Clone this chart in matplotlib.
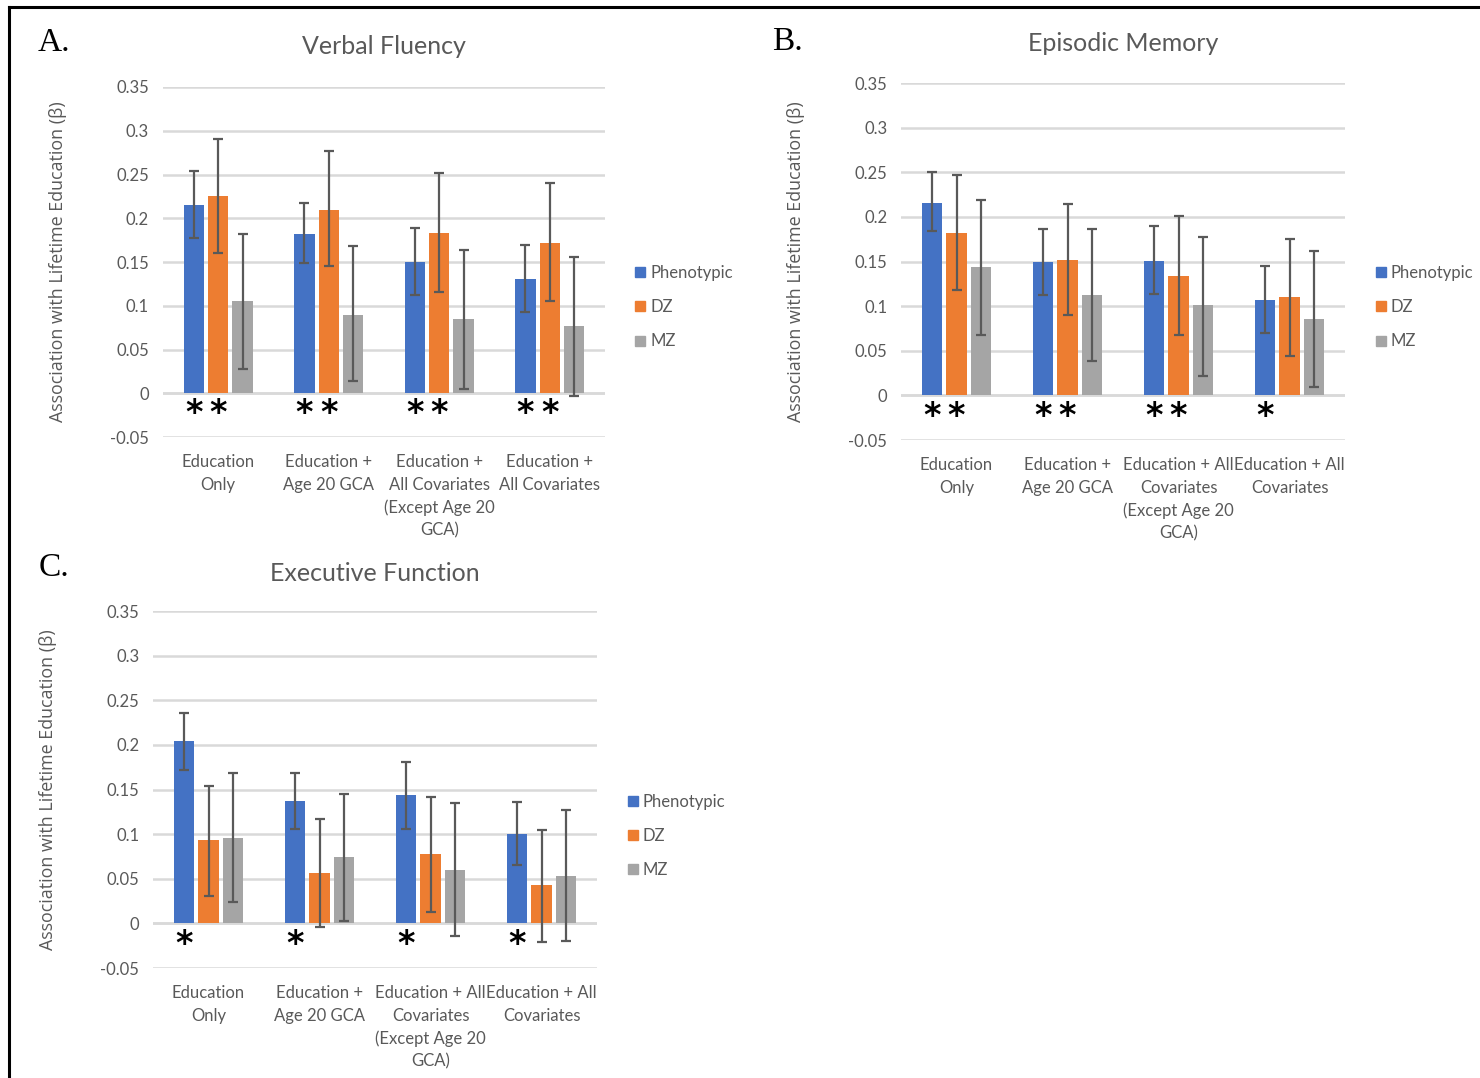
import numpy as np
import matplotlib
matplotlib.use("Agg")
import matplotlib.pyplot as plt
from matplotlib.lines import Line2D

# categories (panel A wraps differently from B and C)
cats_a = ["Education\nOnly", "Education +\nAge 20 GCA",
          "Education +\nAll Covariates\n(Except Age 20\nGCA)", "Education +\nAll Covariates"]
cats_bc = ["Education\nOnly", "Education +\nAge 20 GCA",
           "Education + All\nCovariates\n(Except Age 20\nGCA)", "Education + All\nCovariates"]
series = ["Phenotypic", "DZ", "MZ"]

# A. Verbal Fluency
vf_phen = [0.215, 0.182, 0.150, 0.131]
vf_phen_lo = [0.177, 0.149, 0.112, 0.093]
vf_phen_hi = [0.254, 0.217, 0.189, 0.170]
vf_dz = [0.226, 0.210, 0.183, 0.172]
vf_dz_lo = [0.160, 0.145, 0.116, 0.105]
vf_dz_hi = [0.291, 0.277, 0.252, 0.240]
vf_mz = [0.106, 0.090, 0.085, 0.077]
vf_mz_lo = [0.028, 0.014, 0.005, -0.003]
vf_mz_hi = [0.182, 0.168, 0.164, 0.156]
vf_sig_phen = [1, 1, 1, 1]
vf_sig_dz = [1, 1, 1, 1]

# B. Episodic Memory
em_phen = [0.216, 0.150, 0.151, 0.107]
em_phen_lo = [0.184, 0.113, 0.114, 0.070]
em_phen_hi = [0.250, 0.186, 0.190, 0.145]
em_dz = [0.182, 0.152, 0.134, 0.110]
em_dz_lo = [0.118, 0.090, 0.068, 0.044]
em_dz_hi = [0.247, 0.215, 0.201, 0.175]
em_mz = [0.144, 0.113, 0.101, 0.086]
em_mz_lo = [0.068, 0.039, 0.022, 0.009]
em_mz_hi = [0.219, 0.186, 0.178, 0.162]
em_sig_phen = [1, 1, 1, 1]
em_sig_dz = [1, 1, 1, 0]

# C. Executive Function
ef_phen = [0.204, 0.137, 0.144, 0.100]
ef_phen_lo = [0.172, 0.106, 0.106, 0.065]
ef_phen_hi = [0.236, 0.169, 0.181, 0.136]
ef_dz = [0.093, 0.056, 0.078, 0.043]
ef_dz_lo = [0.031, -0.004, 0.013, -0.021]
ef_dz_hi = [0.154, 0.117, 0.142, 0.105]
ef_mz = [0.096, 0.074, 0.060, 0.053]
ef_mz_lo = [0.024, 0.003, -0.014, -0.020]
ef_mz_hi = [0.169, 0.145, 0.135, 0.127]
ef_sig_phen = [1, 1, 1, 1]
ef_sig_dz = [0, 0, 0, 0]

yticks = [-0.05, 0, 0.05, 0.1, 0.15, 0.2, 0.25, 0.3, 0.35]
ytick_labels = ["-0.05", "0", "0.05", "0.1", "0.15", "0.2", "0.25", "0.3", "0.35"]

colors = ["#4472C4", "#ED7D31", "#A5A5A5"]
TXT = "#595959"
GRID = "#D9D9D9"

plt.rcParams["font.family"] = ["Lato", "DejaVu Sans"]


def draw_panel(ax, title, title_y, cats, vals, los, his, sig_phen, sig_dz, legend_y):
    x = np.arange(len(cats))
    width = 0.185
    offsets = [-0.22, 0, 0.22]
    for k in range(3):
        v = np.array(vals[k])
        err = [v - np.array(los[k]), np.array(his[k]) - v]
        ax.bar(x + offsets[k], v, width, color=colors[k], zorder=2,
               yerr=err, error_kw=dict(ecolor="#595959", elinewidth=1.6,
                                       capsize=3.8, capthick=1.6, zorder=3))
    # significance stars under the bars
    for i in range(len(cats)):
        for k, sig in enumerate([sig_phen, sig_dz]):
            if sig[i]:
                ax.text(x[i] + offsets[k], -0.0235, "*", ha="center", va="center",
                        fontsize=24, fontweight="bold", color="black",
                        family="DejaVu Sans")

    ax.set_xlim(-0.5, len(cats) - 0.5)
    ax.set_ylim(-0.05, 0.35)
    ax.set_yticks(yticks)
    ax.set_yticklabels(ytick_labels)
    ax.yaxis.grid(True, color=GRID, linewidth=1.8, zorder=0)
    ax.set_axisbelow(True)
    for s in ax.spines.values():
        s.set_visible(False)
    ax.axhline(0, color=GRID, linewidth=1.8, zorder=1)
    ax.tick_params(axis="both", length=0, labelsize=12, colors=TXT)
    ax.tick_params(axis="y", pad=10)
    ax.tick_params(axis="x", pad=12.5)
    ax.set_xticks(x)
    ax.set_xticklabels(cats, linespacing=1.48)

    ax.set_ylabel("Association with Lifetime Education (\u03b2)", fontsize=12.9,
                  color=TXT, family=["Open Sans", "DejaVu Sans"])
    ax.yaxis.set_label_coords(-0.216, 0.5)
    ax.text(0.5, title_y, title, transform=ax.transAxes, ha="center", va="center",
            fontsize=18, color=TXT)

    handles = [Line2D([], [], marker="s", linestyle="none", markersize=7,
                      color=c) for c in colors]
    ax.legend(handles, series, loc="center left", bbox_to_anchor=(1.035, legend_y),
              frameon=False, fontsize=12, labelcolor=TXT, handlelength=0.6,
              handletextpad=0.3, labelspacing=1.1)


fig = plt.figure(figsize=(14.8, 10.78), dpi=100)

ax_a = fig.add_axes([0.1101, 0.5946, 0.2987, 0.3247])
draw_panel(ax_a, "Verbal Fluency", 1.117, cats_a,
           [vf_phen, vf_dz, vf_mz], [vf_phen_lo, vf_dz_lo, vf_mz_lo],
           [vf_phen_hi, vf_dz_hi, vf_mz_hi], vf_sig_phen, vf_sig_dz, 0.371)

ax_b = fig.add_axes([0.6088, 0.5918, 0.3, 0.3312])
draw_panel(ax_b, "Episodic Memory", 1.112, cats_bc,
           [em_phen, em_dz, em_mz], [em_phen_lo, em_dz_lo, em_mz_lo],
           [em_phen_hi, em_dz_hi, em_mz_hi], em_sig_phen, em_sig_dz, 0.3725)

ax_c = fig.add_axes([0.1034, 0.102, 0.3, 0.3312])
draw_panel(ax_c, "Executive Function", 1.104, cats_bc,
           [ef_phen, ef_dz, ef_mz], [ef_phen_lo, ef_dz_lo, ef_mz_lo],
           [ef_phen_hi, ef_dz_hi, ef_mz_hi], ef_sig_phen, ef_sig_dz, 0.37)

# panel letters
for letter, lx, ly in [("A.", 0.0365, 0.960), ("B.", 0.532, 0.961), ("C.", 0.0365, 0.473)]:
    fig.text(lx, ly, letter, ha="center", va="center", fontsize=24, color="black",
             family="Liberation Serif")

# black frame along the top and left edges
fig.add_artist(Line2D([0.0061, 1.0], [0.9935, 0.9935], color="black", linewidth=2.2,
                      transform=fig.transFigure))
fig.add_artist(Line2D([0.0061, 0.0061], [0.0, 0.9935], color="black", linewidth=2.2,
                      transform=fig.transFigure))

fig.savefig("out.png", dpi=100)
